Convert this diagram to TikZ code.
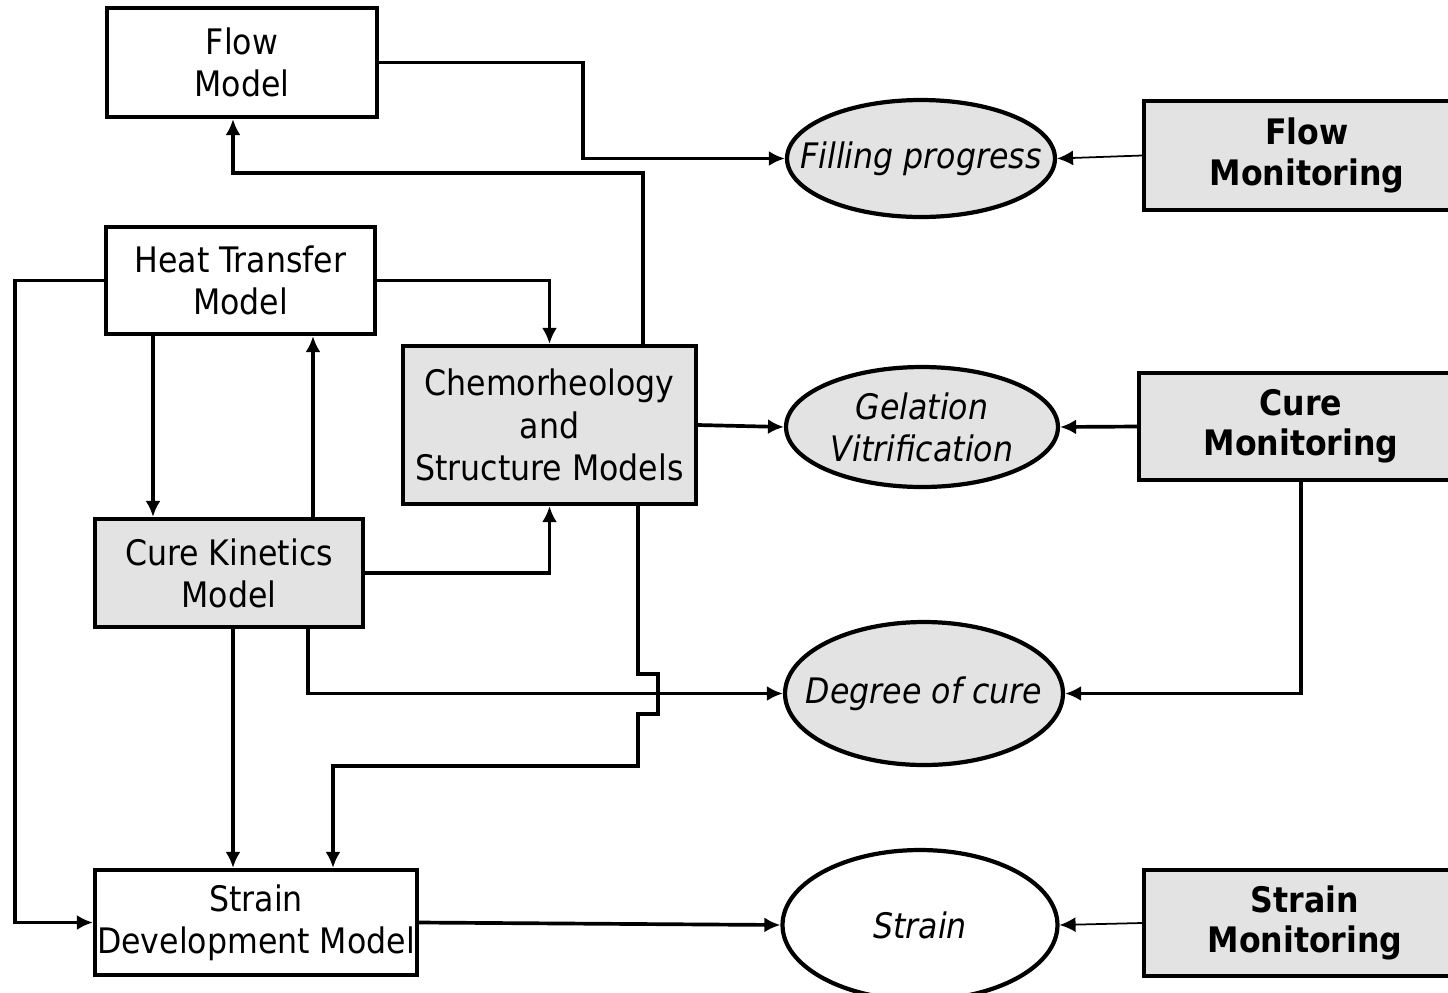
\documentclass[tikz,border=0pt]{standalone}
\usepackage{fontspec}
\setmainfont{DejaVu Sans Condensed}
\usepackage{tikz}
\usetikzlibrary{arrows.meta,shapes.geometric}
\definecolor{modelgrey}{RGB}{227,227,227}
\newcommand{\obstext}[1]{\makebox[0pt]{\itshape #1}}
\tikzset{
  model/.style={draw=black, line width=2.4pt, fill=white,
                inner sep=0pt, align=center,
                font=\fontsize{20}{24}\selectfont},
  modelgrey/.style={model, fill=modelgrey},
  monitor/.style={modelgrey, font=\fontsize{20}{23}\selectfont\bfseries},
  observed/.style={ellipse, draw=black, line width=2.4pt, fill=modelgrey,
                   inner sep=0pt, align=center,
                   font=\fontsize{20}{24}\selectfont},
  observedwhite/.style={observed, fill=white},
  link/.style={-{Latex[length=3.2mm,width=3mm]}, line width=2.1pt},
  thinlink/.style={-{Latex[length=3.2mm,width=3mm]}, line width=1pt},
}

\begin{document}
\begin{tikzpicture}[x=0.02cm,y=-0.02cm]
  \path[use as bounding box] (0,0) rectangle (1448,992);

  % Model boxes.
  \node[model, minimum width=54mm, minimum height=21.8mm] (flowmodel) at (242,62.5)
    {Flow\\Model};
  \node[model, minimum width=53.8mm, minimum height=21.4mm] (heat) at (240.5,280.5)
    {Heat Transfer\\Model};
  \node[modelgrey, minimum width=58.6mm, minimum height=31.6mm] (chemo) at (549.5,425)
    {Chemorheology\\and\\Structure Models};
  \node[modelgrey, minimum width=53.6mm, minimum height=21.6mm] (kinetics) at (229,573)
    {Cure Kinetics\\Model};
  \node[model, minimum width=64.4mm, minimum height=21mm] (straindev) at (256,922.5)
    {Strain\\\makebox[60mm]{Development Model}};

  % Observed quantities.
  \node[observed, minimum width=53.6mm, minimum height=23.4mm] (filling) at (921,158.5)
    {\obstext{Filling progress}};
  \node[observed, minimum width=54.4mm, minimum height=24mm] (gelation) at (922,427)
    {\obstext{Gelation}\\\obstext{Vitrification}};
  \node[observed, minimum width=55.6mm, minimum height=28.6mm] (degree) at (924,693.5)
    {\obstext{Degree of cure}};
  \node[observedwhite, minimum width=55mm, minimum height=30mm] (strain) at (920,925)
    {\obstext{Strain}};

  % Monitoring boxes (cut by the right border).
  \node[monitor, minimum width=65.2mm, minimum height=21.8mm] (flowmon) at (1307,155.5)
    {Flow\\Monitoring};
  \node[monitor, minimum width=64.8mm, minimum height=21.4mm] (curemon) at (1301,426.5)
    {Cure\\Monitoring};
  \node[monitor, minimum width=64.4mm, minimum height=21.2mm] (strainmon) at (1305,923)
    {Strain\\Monitoring};

  % Connectors.
  \draw[link] (flowmodel.east) -| (583,0 |- filling.west) -- (filling.west);
  \draw[link] (643,0 |- chemo.north) |- (233,173) -- (233,0 |- flowmodel.south);
  \draw[thinlink] (flowmon.west) -- (filling.east);

  \draw[link] (heat.east) -| (chemo.north);
  \draw[link] (heat.west) -- (15,0 |- heat.west) |- (straindev.west);
  \draw[link] (153,0 |- heat.south) -- (153,0 |- kinetics.north);
  \draw[link] (313,0 |- kinetics.north) -- (313,0 |- heat.south);
  \draw[link] (kinetics.east) -| (chemo.south);

  \draw[link] (chemo.east) -- (gelation.west);
  \draw[link] (curemon.west) -- (gelation.east);
  \draw[link] (1301,0 |- curemon.south) |- (degree.east);
  \draw[link] (308,0 |- kinetics.south) |- (degree.west);

  % hop over the degree-of-cure line
  \draw[link] (638,0 |- chemo.south) -- (638,674) -- (658,674) -- (658,714)
    -- (638,714) |- (333,766) -- (333,0 |- straindev.north);
  \draw[link] (233,0 |- kinetics.south) -- (233,0 |- straindev.north);

  \draw[link] (straindev.east) -- (strain.west);
  \draw[thinlink] (strainmon.west) -- (strain.east);
\end{tikzpicture}
\end{document}
